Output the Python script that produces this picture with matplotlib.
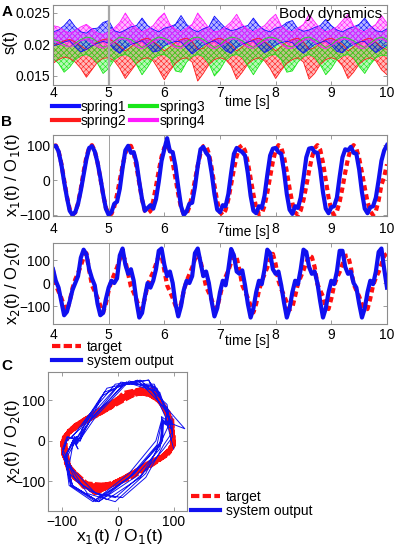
import matplotlib
matplotlib.use('Agg')
import matplotlib.pyplot as plt
from matplotlib.lines import Line2D
import numpy as np

plt.rcParams['font.family'] = ['Liberation Sans', 'DejaVu Sans']
plt.rcParams['hatch.linewidth'] = 0.4

W, H = 397, 546

# ---- panel A: spring lengths (x 1e-3), sampled every 0.1 s from 4 to 10 s
t_a = np.round(np.arange(4.0, 10.001, 0.1), 2)
spring1_hi = [22.0, 22.3, 23.0, 24.0, 22.8, 22.0, 21.8, 22.5, 22.6, 23.5, 23.8, 22.2, 21.9, 22.3, 22.8, 23.0,
              24.2, 23.0, 22.4, 22.0, 22.6, 22.8, 23.2, 24.6, 23.2, 22.4, 22.0, 22.5, 22.8, 24.5, 23.5, 22.6,
              22.2, 22.4, 22.8, 23.0, 24.2, 23.0, 22.3, 22.0, 22.6, 22.8, 23.5, 23.8, 22.5, 22.1, 22.3, 22.7,
              23.0, 24.0, 23.0, 22.3, 22.0, 22.5, 22.8, 23.2, 24.2, 23.0, 22.2, 22.0, 22.5]
spring1_lo = [19.8, 20.0, 20.4, 20.6, 19.6, 18.8, 19.2, 19.8, 20.2, 20.5, 20.2, 19.2, 18.6, 19.4, 20.0, 20.3,
              20.6, 19.8, 18.8, 19.0, 19.8, 20.2, 20.5, 20.4, 19.4, 18.5, 19.2, 19.9, 20.3, 20.6, 20.0, 19.0,
              18.6, 19.5, 20.0, 20.4, 20.6, 19.6, 18.7, 19.2, 19.9, 20.3, 20.5, 20.3, 19.3, 18.6, 19.3, 20.0,
              20.3, 20.6, 19.9, 18.9, 18.7, 19.5, 20.0, 20.4, 20.5, 19.5, 18.7, 19.3, 19.9]
spring2_hi = [19.8, 20.2, 20.6, 20.8, 20.4, 19.8, 19.2, 19.8, 20.4, 20.8, 20.9, 20.4, 19.8, 19.0, 19.6, 20.3,
              20.8, 21.0, 20.5, 19.8, 19.0, 19.6, 20.3, 20.8, 21.0, 20.5, 19.2, 19.4, 20.2, 20.8, 21.0, 20.6,
              20.0, 19.0, 19.6, 20.3, 20.8, 21.0, 20.5, 19.8, 19.0, 19.7, 20.4, 20.8, 21.0, 20.4, 19.2, 19.5,
              20.2, 20.8, 21.0, 20.6, 20.0, 19.0, 19.6, 20.3, 20.8, 21.0, 20.4, 19.6, 19.2]
spring2_lo = [17.0, 17.6, 18.0, 17.8, 17.2, 16.2, 14.8, 16.0, 17.2, 17.8, 17.9, 17.4, 16.2, 14.6, 15.8, 17.0,
              17.7, 17.9, 17.4, 16.0, 14.4, 15.8, 17.0, 17.7, 17.9, 17.2, 14.2, 15.4, 16.8, 17.6, 17.9, 17.6,
              16.6, 14.5, 15.6, 16.9, 17.6, 17.9, 17.4, 16.2, 14.6, 15.9, 17.0, 17.6, 17.9, 17.2, 14.5, 15.4,
              16.8, 17.6, 17.9, 17.6, 16.6, 14.6, 15.6, 16.9, 17.6, 17.9, 17.4, 16.0, 15.2]
spring3_hi = [20.8, 20.6, 20.0, 19.6, 20.2, 20.8, 21.2, 21.0, 20.4, 19.6, 19.8, 20.6, 21.2, 21.0, 20.8, 20.2,
              19.5, 20.0, 20.8, 21.2, 21.0, 20.6, 19.8, 19.6, 20.4, 21.0, 21.2, 20.8, 20.2, 19.5, 20.0, 20.8,
              21.2, 21.0, 20.6, 20.0, 19.5, 20.2, 20.9, 21.2, 21.0, 20.5, 19.8, 19.6, 20.4, 21.0, 21.2, 20.8,
              20.2, 19.5, 20.0, 20.8, 21.2, 21.0, 20.6, 20.0, 19.5, 20.2, 20.9, 21.2, 20.8]
spring3_lo = [17.8, 17.0, 15.6, 16.4, 17.6, 18.2, 18.4, 18.0, 17.0, 15.4, 16.2, 17.6, 18.2, 18.4, 18.0, 16.8,
              15.2, 16.4, 17.8, 18.3, 18.4, 17.8, 15.8, 15.6, 17.2, 18.1, 18.4, 18.1, 17.0, 15.0, 16.0, 17.5,
              18.2, 18.4, 18.0, 16.6, 15.2, 16.6, 17.8, 18.3, 18.4, 17.6, 15.6, 15.8, 17.2, 18.1, 18.4, 18.0,
              16.8, 15.2, 16.2, 17.6, 18.2, 18.4, 17.9, 16.5, 15.4, 16.8, 17.9, 18.3, 18.2]
spring4_hi = [23.0, 22.8, 22.2, 21.8, 22.2, 22.8, 23.2, 22.5, 21.8, 21.6, 22.0, 22.6, 23.5, 25.0, 23.6, 22.6,
              22.0, 22.4, 23.0, 24.2, 25.0, 23.2, 22.4, 22.0, 22.6, 23.2, 25.0, 23.8, 22.6, 22.0, 22.2, 22.8,
              23.6, 24.8, 23.2, 22.4, 22.0, 22.5, 23.0, 24.0, 24.8, 23.0, 22.2, 22.0, 22.6, 23.2, 24.8, 23.6,
              22.5, 22.0, 22.3, 22.8, 23.8, 24.8, 23.0, 22.3, 22.0, 22.6, 23.2, 24.6, 23.4]
spring4_lo = [20.6, 20.2, 19.8, 19.6, 20.0, 20.6, 20.8, 20.2, 19.6, 19.4, 19.8, 20.4, 20.8, 20.9, 20.2, 19.6,
              19.3, 19.8, 20.4, 20.8, 20.8, 20.0, 19.5, 19.4, 20.0, 20.6, 20.9, 20.4, 19.6, 19.3, 19.7, 20.3,
              20.8, 20.9, 20.1, 19.5, 19.4, 19.9, 20.5, 20.8, 20.8, 20.0, 19.4, 19.4, 20.0, 20.6, 20.9, 20.3,
              19.6, 19.3, 19.8, 20.4, 20.8, 20.8, 20.0, 19.4, 19.4, 20.0, 20.6, 20.9, 20.4]

# ---- panel B: outputs, sampled every 0.05 s from 4 to 10 s
t_b = np.round(np.arange(4.0, 10.001, 0.05), 2)
x1_target = [97, 99, 83, 47, 0, -47, -83, -99, -93, -66, -24, 24, 66, 93, 100, 84, 50, 5, -41, -79,
             -98, -97, -77, -42, 0, 42, 77, 97, 98, 77, 38, -10, -56, -88, -95, -89, -60, -18, 27, 67,
             93, 100, 84, 50, 5, -41, -79, -98, -97, -77, -42, 0, 42, 77, 97, 98, 76, 35, -15, -61,
             -92, -100, -86, -55, -13, 31, 69, 94, 100, 84, 50, 5, -41, -79, -98, -96, -74, -36, 9, 53,
             85, 100, 93, 66, 24, -24, -66, -93, -100, -87, -57, -17, 26, 64, 91, 100, 87, 50, 0, -50,
             -87, -100, -90, -62, -22, 22, 62, 90, 100, 90, 62, 22, -22, -62, -90, -100, -89, -58, -14, 10,
             45]
x1_output = [97, 98, 82, 45, -5, -50, -88, -100, -92, -68, -30, 15, 60, 92, 97, 82, 50, 8, -40, -82,
             -100, -92, -68, -62, -25, 35, 85, 98, 78, 80, 50, -5, -55, -88, -80, -72, -82, -55, -5, 55,
             88, 120, 82, 80, 40, -20, -75, -100, -90, -68, -65, -20, 40, 88, 95, 78, 68, 20, -40, -85,
             -92, -72, -75, -40, 20, 75, 92, 85, 80, 70, 20, -45, -88, -95, -75, -80, -45, 15, 70, 90,
             92, 80, 75, 25, -40, -85, -97, -75, -80, -50, 5, 65, 90, 92, 80, 78, 30, -35, -82, -95,
             -78, -75, -50, 10, 65, 88, 85, 95, 78, 75, 30, -35, -82, -95, -78, -75, -50, 0, 55, 85,
             100]
x2_target = [55, -10, -37, -65, -99, -120, -79, -22, 16, 43, 75, 111, 130, 55, -10, -37, -65, -98, -128, -90,
             -33, 9, 38, 68, 104, 127, 96, 40, -16, -42, -72, -106, -113, -67, -10, 22, 48, 82, 118, 118,
             55, -10, -37, -65, -98, -128, -90, -33, 9, 38, 68, 104, 127, 96, 40, -16, -42, -72, -110, -105,
             -56, -4, 27, 55, 89, 121, 110, 55, -10, -37, -65, -98, -128, -90, -33, 9, 38, 68, 104, 127,
             82, 10, -27, -53, -85, -116, -105, -56, -4, 27, 55, 89, 121, 113, 70, -5, -32, -58, -105, -113,
             -67, -10, 22, 48, 82, 118, 120, 70, -5, -32, -58, -92, -114, -113, -67, -10, 22, 48, 82, 118,
             128]
x2_output = [60, 10, -20, -80, -140, -125, -80, -30, 0, 30, 110, 145, 125, 60, 20, -10, -90, -140, -130, -70,
             -20, 10, 0, 20, 120, 150, 80, 40, 60, 10, -80, -150, -130, -60, 0, -20, 10, 60, 140, 150,
             80, 30, 50, 0, -90, -145, -100, -30, 10, 0, 30, 130, 150, 90, 30, 50, 0, -80, -145, -110,
             -40, 10, -10, 60, 148, 120, 50, 40, 55, -10, -90, -150, -110, -40, 10, -5, 60, 145, 130, 60,
             40, 50, -10, -85, -150, -110, -40, 10, -5, 60, 145, 135, 70, 40, 50, 0, -80, -150, -110, -40,
             10, -5, 50, 140, 140, 70, 40, 50, 0, -20, -90, -150, -110, -40, 10, -5, 50, 135, 150, 60,
             -20]

x_ticks = [4, 5, 6, 7, 8, 9, 10]
a_yticks = [0.015, 0.02, 0.025]
a_yticklabels = ['0.015', '0.02', '0.025']
spring_names = ['spring1', 'spring2', 'spring3', 'spring4']
spring_colors = ['#1010ff', '#ff1a1a', '#19e619', '#ff19ff']

RED = '#ff1010'
BLUE = '#1010f0'
GRAY = '#8c8c8c'


def rect(x0, y0, x1, y1):
    return [x0 / W, 1 - y1 / H, (x1 - x0) / W, (y1 - y0) / H]


def fxy(x, y):
    return x / W, 1 - y / H


def style(ax, xpad=2):
    for s in ax.spines.values():
        s.set_color(GRAY)
        s.set_linewidth(0.8)
    ax.tick_params(direction='in', length=3, width=0.6, color=GRAY, labelsize=10,
                   top=True, right=True, pad=2)
    ax.tick_params(axis='x', pad=xpad)


fig = plt.figure(figsize=(W / 100, H / 100), dpi=100)

# ---------------- A
axA = fig.add_axes(rect(53, 5, 387, 85))
springs = [(spring1_lo, spring1_hi), (spring2_lo, spring2_hi),
           (spring3_lo, spring3_hi), (spring4_lo, spring4_hi)]
for i in [1, 2, 0, 3]:
    lo = np.array(springs[i][0]) * 1e-3
    hi = np.array(springs[i][1]) * 1e-3
    c = spring_colors[i]
    axA.fill_between(t_a, lo, hi, facecolor=c, alpha=0.3, lw=0)
    axA.fill_between(t_a, lo, hi, facecolor='none', edgecolor=c, hatch='xxxxxx', lw=0)
    axA.plot(t_a, lo, color=c, lw=0.6)
    axA.plot(t_a, hi, color=c, lw=0.6)
axA.axvline(5, color='#a8a8a8', lw=1.6)
axA.set_xlim(4, 10)
axA.set_ylim(0.01357, 0.02627)
axA.set_xticks(x_ticks)
axA.set_yticks(a_yticks)
axA.set_yticklabels(a_yticklabels)
style(axA, xpad=1)
axA.text(0.985, 0.975, 'Body dynamics', transform=axA.transAxes, ha='right', va='top', fontsize=11)

handles = [Line2D([], [], color=spring_colors[i], lw=3) for i in range(4)]
fig.legend(handles, spring_names, loc='upper left', bbox_to_anchor=fxy(52, 100), frameon=False,
           ncol=2, fontsize=10, handlelength=1.95, handletextpad=0.15, columnspacing=0.25,
           borderpad=0, borderaxespad=0, labelspacing=0.0)

# ---------------- B1
axB1 = fig.add_axes(rect(53, 135, 387, 216))
axB1.axvline(5, color='#a0a0a0', lw=0.7)
axB1.plot(t_b, x1_target, color=RED, lw=3, ls=(0, (1.3, 0.9)))
axB1.plot(t_b, x1_output, color=BLUE, lw=3)
axB1.set_xlim(4, 10)
axB1.set_ylim(-103, 129)
axB1.set_xticks(x_ticks)
axB1.set_yticks([-100, 0, 100])
style(axB1, xpad=4)

# ---------------- B2
axB2 = fig.add_axes(rect(53, 243, 387, 324))
axB2.axvline(5, color='#a0a0a0', lw=0.7)
axB2.plot(t_b, x2_target, color=RED, lw=3, ls=(0, (1.3, 0.9)))
axB2.plot(t_b, x2_output, color=BLUE, lw=3)
axB2.set_xlim(4, 10)
axB2.set_ylim(-178, 174)
axB2.set_xticks(x_ticks)
axB2.set_yticks([-100, 0, 100])
style(axB2, xpad=3)

tb_handles = [Line2D([], [], color=RED, lw=3, ls=(0, (2.0, 0.8))), Line2D([], [], color=BLUE, lw=3)]
fig.legend(tb_handles, ['target', 'system output'], loc='upper left', bbox_to_anchor=fxy(52, 340),
           frameon=False, fontsize=10, handlelength=2.1, handletextpad=0.4,
           borderpad=0, borderaxespad=0, labelspacing=0.0)

# ---------------- C
axC = fig.add_axes(rect(48, 372, 187, 511))
axC.plot(x1_target, x2_target, color=RED, lw=3.2, ls=(0, (2.0, 0.5)))
axC.plot(x1_output, x2_output, color=BLUE, lw=0.7)
axC.set_xlim(-126, 124)
axC.set_ylim(-173, 170)
axC.set_xticks([-100, 0, 100])
axC.set_yticks([-100, 0, 100])
style(axC, xpad=3)
fig.legend(tb_handles, ['target', 'system output'], loc='upper left', bbox_to_anchor=fxy(191, 490),
           frameon=False, fontsize=10, handlelength=2.1, handletextpad=0.4,
           borderpad=0, borderaxespad=0, labelspacing=0.0)

# ---------------- labels
fig.text(*fxy(10, 42), 's(t)', rotation=90, ha='center', va='center', fontsize=12)
fig.text(*fxy(13, 175), 'x$_1$(t) / O$_1$(t)', rotation=90, ha='center', va='center', fontsize=12)
fig.text(*fxy(13, 283), 'x$_2$(t) / O$_2$(t)', rotation=90, ha='center', va='center', fontsize=12)
fig.text(*fxy(13, 441), 'x$_2$(t) / O$_2$(t)', rotation=90, ha='center', va='center', fontsize=12)
fig.text(*fxy(120, 536), 'x$_1$(t) / O$_1$(t)', ha='center', va='center', fontsize=12.5)
for y in [102, 232, 341]:
    fig.text(*fxy(247, y), 'time [s]', ha='center', va='center', fontsize=10)
for lab, y in [('A', 12), ('B', 122), ('C', 366)]:
    fig.text(*fxy(7, y), lab, ha='center', va='center', fontsize=11, fontweight='bold')

fig.savefig('out.png', dpi=100)
